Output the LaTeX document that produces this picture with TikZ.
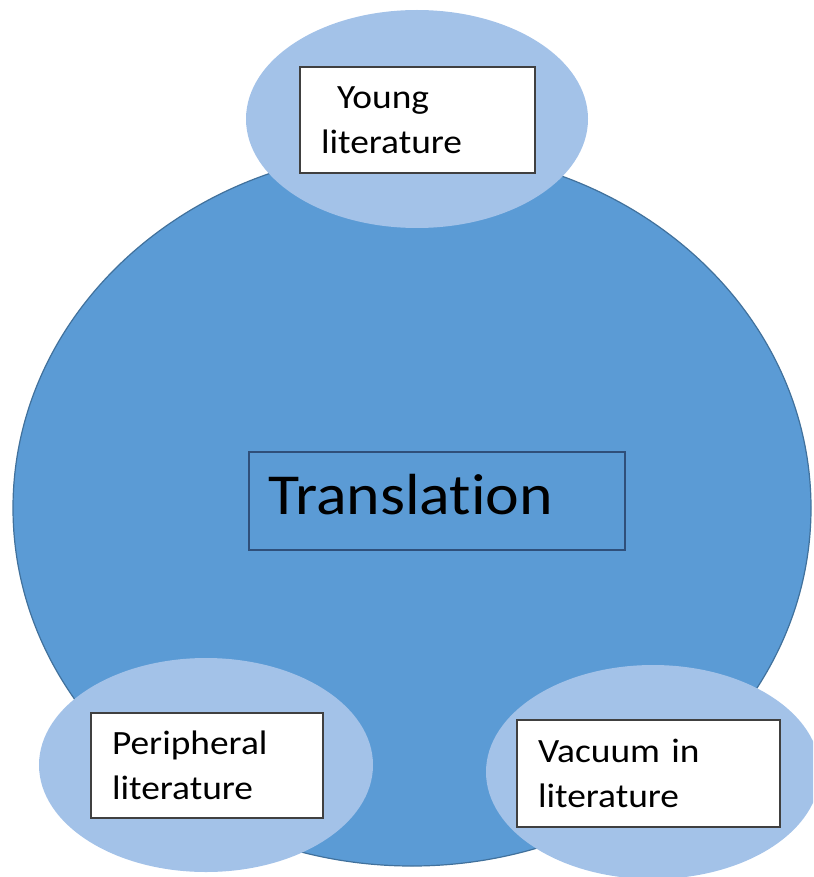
\documentclass[tikz,border=0pt]{standalone}
\usepackage{fontspec}
\setmainfont{Carlito}[FakeStretch=1.1, Ligatures=NoCommon]
\usetikzlibrary{shapes.geometric}

\definecolor{coreblue}{RGB}{91,155,213}
\definecolor{coreedge}{RGB}{65,113,156}
\definecolor{satblue}{RGB}{163,194,232}
\definecolor{boxedge}{RGB}{64,64,64}
\definecolor{frameedge}{RGB}{47,79,122}

\begin{document}
\begin{tikzpicture}[x=1pt, y=-1pt,
    core/.style={ellipse, fill=coreblue, draw=coreedge, line width=1.2pt, inner sep=0pt},
    satellite/.style={ellipse, fill=satblue, inner sep=0pt, minimum width=334pt, minimum height=214pt},
    labelbox/.style={rectangle, draw=boxedge, fill=white, line width=1.2pt, align=left,
        inner xsep=21pt, inner ysep=0pt, font=\fontsize{34}{45}\selectfont}
    ]

    \useasboundingbox (0,0) rectangle (813,877);
    \clip (0,0) rectangle (813,877);

    % big circle and the three satellites
    \node[core, minimum width=798pt, minimum height=716pt] (T) at (412,508) {};
    \node[satellite, minimum width=342pt, minimum height=218pt] (Y) at (417,119) {};
    \node[satellite] (P) at (206,765) {};
    \node[satellite] (V) at (653,772) {};

    % labels
    \node[rectangle, draw=frameedge, line width=1.2pt, align=left, inner xsep=19pt, inner ysep=0pt,
        text width=338pt, minimum height=98pt, text depth=14pt, font=\fontsize{58}{62}\selectfont]
        (Tlabel) at (437,501) {Translation};
    \node[labelbox, text width=193pt, minimum height=106pt] (Ylabel) at (417.5,120)
        {\hspace*{16pt}Young\\literature};
    \node[labelbox, text width=190pt, minimum height=105pt] (Plabel) at (207,765.5)
        {Peripheral\\literature};
    \node[labelbox, text width=221pt, minimum height=107pt] (Vlabel) at (648.5,773.5)
        {Vacuum in\\literature};

\end{tikzpicture}
\end{document}
